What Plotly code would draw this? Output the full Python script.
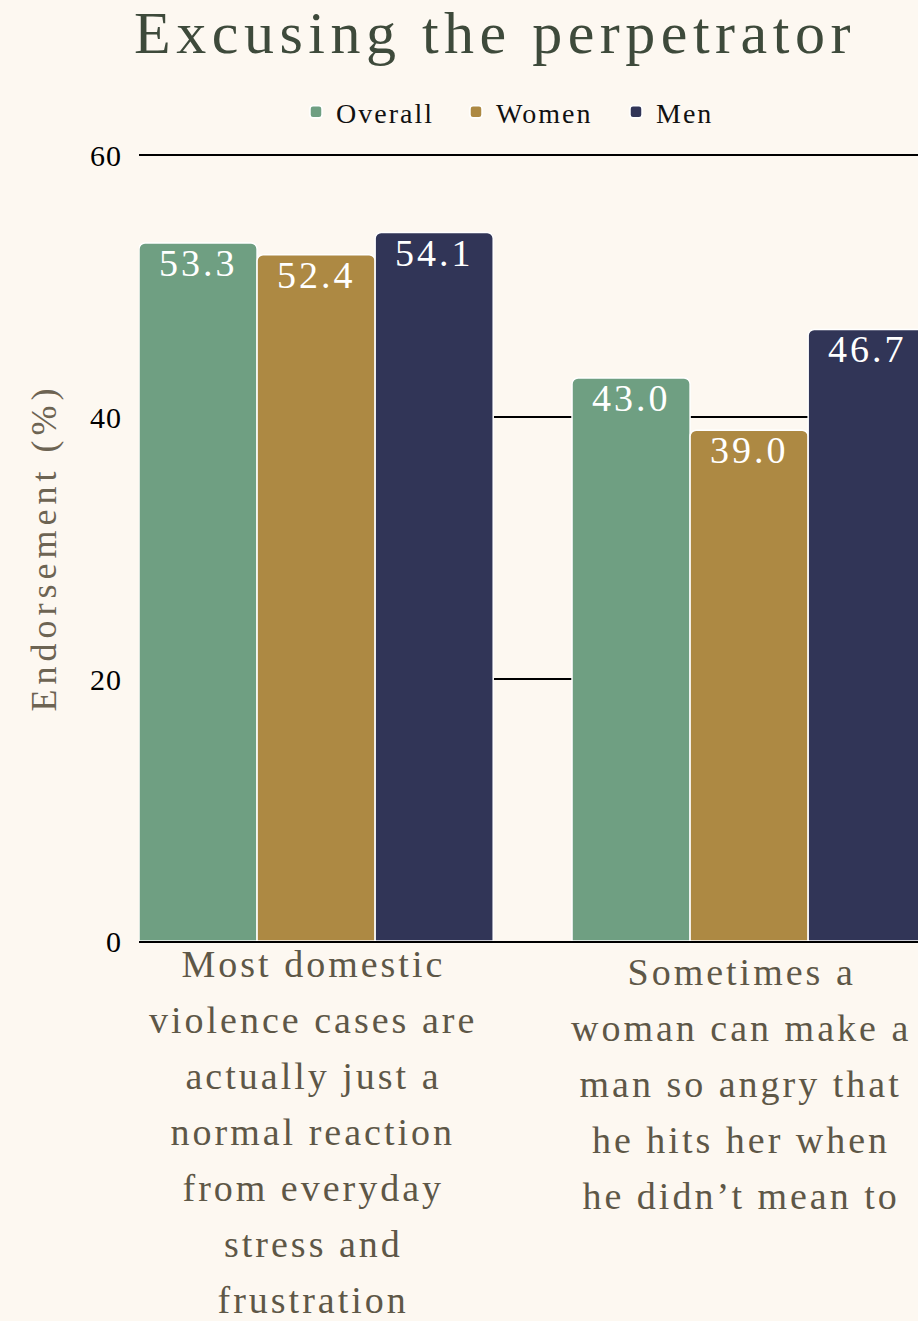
import plotly.graph_objects as go

# Survey statements (x categories), one line of text per list entry
statements = [
    ["Most domestic", "violence cases are", "actually just a", "normal reaction",
     "from everyday", "stress and", "frustration"],
    ["Sometimes a", "woman can make a", "man so angry that", "he hits her when",
     "he didn\u2019t mean to"],
]
categories = ["Most domestic violence cases", "Sometimes a woman can make a man so angry"]

# Endorsement (%) by group
overall = [53.3, 43.0]
women = [52.4, 39.0]
men = [54.1, 46.7]

series = [
    ("Overall", overall, "#6f9f82"),
    ("Women", women, "#ad8943"),
    ("Men", men, "#313557"),
]

y_ticks = [0, 20, 40, 60]

SERIF = "Liberation Serif"
BG = "#fdf8f1"

# Plot geometry
FIG_W, FIG_H = 918, 1321
M_L, M_R, M_T, M_B = 139, 0, 154, 380
X_RANGE = [-0.409, 1.390]
Y_RANGE = [0, 60.1]
BARGAP = 0.182

plot_w = FIG_W - M_L - M_R
px_per_cat = plot_w / (X_RANGE[1] - X_RANGE[0])
bar_px = px_per_cat * (1 - BARGAP) / len(series)

fig = go.Figure()
for name, values, color in series:
    fig.add_trace(go.Bar(
        name=name,
        x=categories,
        y=values,
        marker=dict(color=color, line=dict(color="white", width=1.5)),
        cliponaxis=True,
    ))

# Value labels just inside the top of each bar
for ti, (name, values, color) in enumerate(series):
    for ci, v in enumerate(values):
        fig.add_annotation(
            x=categories[ci], y=v, xref="x", yref="y",
            text=f"{v:.1f}", showarrow=False,
            xanchor="center", yanchor="top",
            xshift=(ti - (len(series) - 1) / 2) * bar_px,
            yshift=3,
            font=dict(family=SERIF, size=38, color="white"),
        )

# Multi-line category labels under each group
line_gap = 56
first_offset = [0, -8]
label_xshift = [-3, -8]
for ci, lines in enumerate(statements):
    for li, line in enumerate(lines):
        fig.add_annotation(
            x=categories[ci], y=0, xref="x", yref="y",
            text=line, showarrow=False,
            xanchor="center", yanchor="top",
            yshift=first_offset[ci] - li * line_gap,
            xshift=label_xshift[ci],
            font=dict(family=SERIF, size=38, color="#5e5747"),
        )

fig.update_layout(
    width=FIG_W,
    height=FIG_H,
    paper_bgcolor=BG,
    plot_bgcolor=BG,
    margin=dict(l=M_L, r=M_R, t=M_T, b=M_B, autoexpand=False),
    barmode="group",
    bargap=BARGAP,
    bargroupgap=0,
    barcornerradius=6,
    font=dict(family=SERIF, color="black"),
    title=dict(
        text="Excusing the perpetrator",
        font=dict(family=SERIF, size=60, color="#3e4a3b"),
        x=495 / FIG_W, xref="container", xanchor="center",
        y=1 - 32 / FIG_H, yref="container", yanchor="middle",
    ),
    legend=dict(
        orientation="h",
        x=(296 - M_L) / plot_w, xanchor="left",
        y=(FIG_H - M_B - 112) / (FIG_H - M_T - M_B), yanchor="middle",
        font=dict(family=SERIF, size=28, color="#111111"),
        bgcolor="rgba(0,0,0,0)",
        entrywidth=115,
        entrywidthmode="pixels",
        traceorder="normal",
    ),
    showlegend=True,
    xaxis=dict(
        range=X_RANGE,
        showticklabels=False,
        showgrid=False,
        zeroline=False,
        showline=True,
        linecolor="black",
        linewidth=1.5,
        ticks="",
        fixedrange=True,
    ),
    yaxis=dict(
        range=Y_RANGE,
        tickvals=y_ticks,
        ticktext=[str(t) for t in y_ticks],
        showgrid=True,
        gridcolor="black",
        gridwidth=1.6,
        zeroline=False,
        showline=False,
        ticks="",
        ticklabelstandoff=16,
        tickfont=dict(family=SERIF, size=30, color="black"),
        title=dict(
            text="Endorsement (%)",
            font=dict(family=SERIF, size=36, color="#6d6453"),
            standoff=24,
        ),
        automargin=False,
        fixedrange=True,
    ),
)

# Letter spacing for the typography
spacing_css = """
var s = document.createElement('style');
s.textContent = '.gtitle{letter-spacing:5.5px} .legendtext{letter-spacing:2px}' +
  ' .ytick text{letter-spacing:1px} .ytitle{letter-spacing:5px}' +
  ' .annotation-text{letter-spacing:3px}';
document.head.appendChild(s);
"""

fig.write_html("out.html", config={"displayModeBar": False}, post_script=spacing_css)
